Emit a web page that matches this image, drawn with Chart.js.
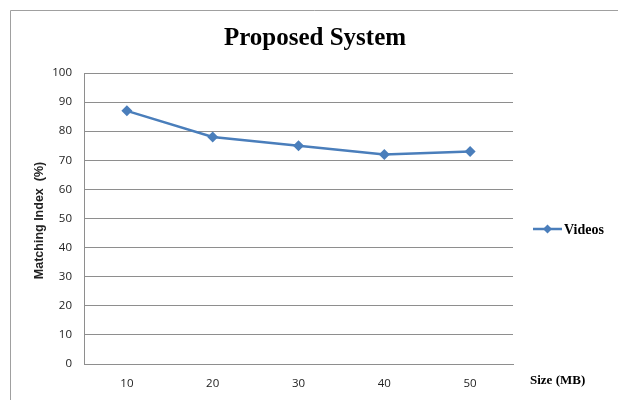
<!DOCTYPE html>
<html>
<head>
<meta charset="utf-8">
<script src="https://cdn.jsdelivr.net/npm/chart.js@4/dist/chart.umd.min.js"></script>
<style>
  html, body { margin: 0; padding: 0; background: #fff; }
  #wrap { position: relative; width: 618px; height: 400px; }
</style>
</head>
<body>
<div id="wrap"><canvas id="chart" width="618" height="400"></canvas></div>
<script>
// Matching index by file size
const sizes = ['10', '20', '30', '40', '50'];
const videos = [87, 78, 75, 72, 73];
const yTicks = [0, 10, 20, 30, 40, 50, 60, 70, 80, 90, 100];

const chartTitle = 'Proposed System';
const seriesName = 'Videos';
const xTitle = 'Size (MB)';
const yTitle = 'Matching Index  (%)';

const LINE = '#4a7ebb';
const GRID = '#8e8e8e';

// Frame, title, axis titles and legend drawn on the canvas
const decorations = {
  id: 'decorations',
  beforeDraw(chart) {
    const ctx = chart.ctx;
    ctx.save();
    ctx.fillStyle = '#fff';
    ctx.fillRect(0, 0, chart.width, chart.height);
    ctx.strokeStyle = '#a0a0a0';
    ctx.lineWidth = 1;
    ctx.beginPath();
    ctx.moveTo(10.5, chart.height);
    ctx.lineTo(10.5, 10.5);
    ctx.lineTo(chart.width, 10.5);
    ctx.stroke();
    ctx.restore();
  },
  afterDraw(chart) {
    const ctx = chart.ctx;
    const area = chart.chartArea;
    ctx.save();
    ctx.fillStyle = '#000';
    // title
    ctx.font = 'bold 25px "Liberation Serif", "Times New Roman", serif';
    ctx.textAlign = 'center';
    ctx.textBaseline = 'middle';
    ctx.fillText(chartTitle, 315, 39);

    // y axis title
    ctx.save();
    ctx.translate(40, (area.top + area.bottom) / 2 + 2);
    ctx.rotate(-Math.PI / 2);
    ctx.font = 'bold 12.5px "Liberation Sans", Arial, sans-serif';
    ctx.fillStyle = '#222';
    ctx.fillText(yTitle, 0, 0);
    ctx.restore();

    // x axis title
    ctx.font = 'bold 13px "Liberation Serif", "Times New Roman", serif';
    ctx.textAlign = 'left';
    ctx.fillText(xTitle, 530, 381);

    // legend
    const ly = 229;
    ctx.strokeStyle = LINE;
    ctx.lineWidth = 2.5;
    ctx.beginPath();
    ctx.moveTo(533, ly);
    ctx.lineTo(562, ly);
    ctx.stroke();
    ctx.fillStyle = LINE;
    ctx.beginPath();
    ctx.moveTo(547.5, ly - 4.5);
    ctx.lineTo(552, ly);
    ctx.lineTo(547.5, ly + 4.5);
    ctx.lineTo(543, ly);
    ctx.closePath();
    ctx.fill();
    ctx.fillStyle = '#000';
    ctx.font = 'bold 14px "Liberation Serif", "Times New Roman", serif';
    ctx.fillText(seriesName, 564, ly + 1);
    ctx.restore();
  }
};

new Chart(document.getElementById('chart'), {
  type: 'line',
  data: {
    labels: sizes,
    datasets: [{
      label: seriesName,
      data: videos,
      borderColor: LINE,
      backgroundColor: LINE,
      borderWidth: 2.5,
      pointStyle: 'rectRot',
      pointRadius: 5.5,
      pointHoverRadius: 5.5,
      pointBorderWidth: 0,
      tension: 0,
      fill: false
    }]
  },
  options: {
    responsive: false,
    animation: false,
    events: [],
    layout: { padding: { left: 0, right: 105, top: 73, bottom: 0 } },
    plugins: {
      legend: { display: false },
      title: { display: false },
      tooltip: { enabled: false }
    },
    scales: {
      x: {
        offset: true,
        grid: { display: false, drawTicks: false },
        border: { display: true, color: GRID, width: 1 },
        ticks: {
          padding: 13,
          color: '#222',
          font: { family: '"Open Sans", sans-serif', size: 11.5 }
        },
        afterFit(scale) { scale.height = 36; }
      },
      y: {
        min: 0,
        max: 100,
        afterBuildTicks(scale) { scale.ticks = yTicks.map(v => ({ value: v })); },
        grid: { color: GRID, lineWidth: 1, drawTicks: false },
        border: { display: true, color: GRID, width: 1 },
        ticks: {
          padding: 12,
          color: '#222',
          font: { family: '"Open Sans", sans-serif', size: 11.5 }
        },
        afterFit(scale) { scale.width = 84; }
      }
    }
  },
  plugins: [decorations]
});
</script>
</body>
</html>
